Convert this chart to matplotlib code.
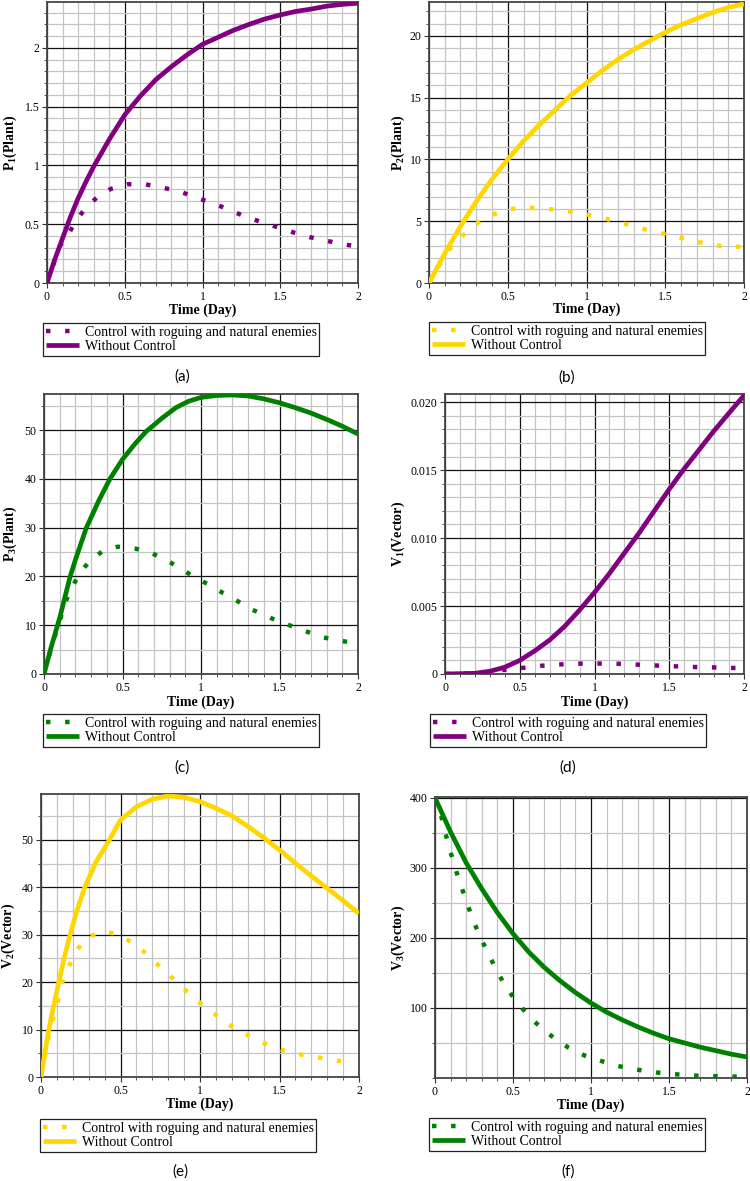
import matplotlib
matplotlib.use('Agg')
import matplotlib.pyplot as plt
from matplotlib.ticker import MultipleLocator, FixedLocator, FixedFormatter

plt.rcParams['font.family'] = 'Liberation Serif'
plt.rcParams['mathtext.default'] = 'regular'

PURPLE = '#800080'
GOLD = '#FFD700'
GREEN = '#008000'

CTRL_LABEL = 'Control with roguing and natural enemies'
FREE_LABEL = 'Without Control'

# (a) P1
p1_t_free = [0, 0.05, 0.1, 0.15, 0.2, 0.25, 0.3, 0.4, 0.5, 0.6, 0.7, 0.8, 0.9, 1.0,
             1.1, 1.2, 1.3, 1.4, 1.5, 1.6, 1.7, 1.8, 1.9, 2.0]
p1_free = [0, 0.2, 0.38, 0.56, 0.72, 0.86, 0.99, 1.22, 1.43, 1.59, 1.73, 1.84, 1.94, 2.03,
           2.09, 2.15, 2.2, 2.245, 2.28, 2.31, 2.33, 2.355, 2.37, 2.38]
p1_t_ctrl = [0, 0.08, 0.14, 0.19, 0.245, 0.33, 0.41, 0.52, 0.63, 0.745, 0.855, 0.945,
             1.045, 1.16, 1.265, 1.375, 1.48, 1.585, 1.69, 1.795, 1.9, 2.0]
p1_ctrl = [0, 0.31, 0.42, 0.54, 0.63, 0.74, 0.8, 0.84, 0.84, 0.81, 0.78, 0.73,
           0.69, 0.63, 0.57, 0.52, 0.475, 0.43, 0.39, 0.36, 0.33, 0.31]

# (b) P2
p2_t_free = [0, 0.05, 0.1, 0.15, 0.2, 0.3, 0.4, 0.5, 0.6, 0.7, 0.8, 0.9, 1.0,
             1.1, 1.2, 1.3, 1.4, 1.5, 1.6, 1.7, 1.8, 1.9, 2.0]
p2_free = [0, 1.2, 2.4, 3.5, 4.6, 6.6, 8.4, 10.0, 11.5, 12.8, 14.0, 15.2, 16.2,
           17.2, 18.1, 18.9, 19.6, 20.3, 20.9, 21.4, 21.9, 22.3, 22.6]
p2_t_ctrl = [0, 0.06, 0.116, 0.18, 0.26, 0.33, 0.42, 0.52, 0.63, 0.745, 0.857, 0.98,
             1.08, 1.18, 1.3, 1.41, 1.52, 1.63, 1.74, 1.85, 1.97, 2.0]
p2_ctrl = [0, 1.3, 2.5, 3.5, 4.3, 5.1, 5.6, 6.0, 6.1, 6.0, 5.86, 5.6,
           5.35, 5.0, 4.6, 4.2, 3.9, 3.56, 3.24, 3.0, 2.94, 2.9]

# (c) P3
p3_t_free = [0, 0.05, 0.1, 0.165, 0.2, 0.27, 0.35, 0.42, 0.5, 0.58, 0.65, 0.75, 0.84,
             0.92, 1.0, 1.1, 1.2, 1.3, 1.4, 1.5, 1.6, 1.7, 1.8, 1.9, 2.0]
p3_free = [0, 6, 11.5, 19.8, 23.4, 30, 35.6, 40, 44, 47.2, 49.7, 52.4, 54.6,
           55.9, 56.7, 57.1, 57.2, 57.0, 56.4, 55.6, 54.6, 53.5, 52.2, 50.8, 49.2]
p3_t_ctrl = [0, 0.05, 0.106, 0.136, 0.174, 0.227, 0.287, 0.37, 0.47, 0.584, 0.684, 0.773,
             0.854, 0.945, 1.05, 1.14, 1.23, 1.31, 1.405, 1.49, 1.585, 1.69, 1.78, 1.89, 1.95]
p3_ctrl = [0, 5.8, 11.5, 14.7, 17.6, 20.5, 23.1, 25.1, 26.1, 25.7, 24.8, 23.4,
           22.0, 20.1, 18.3, 16.6, 15.0, 13.4, 12.1, 10.8, 9.75, 8.5, 7.5, 6.8, 6.5]

# (d) V1
v1_t_free = [0, 0.2, 0.3, 0.4, 0.5, 0.6, 0.7, 0.8, 0.9, 1.0, 1.1, 1.2, 1.3, 1.4,
             1.5, 1.6, 1.7, 1.8, 1.9, 2.0]
v1_free = [0, 0.00005, 0.0002, 0.0005, 0.001, 0.0017, 0.0025, 0.0035, 0.0047, 0.006,
           0.0074, 0.0089, 0.0104, 0.012, 0.0136, 0.0151, 0.0165, 0.0179, 0.0192, 0.0205]
v1_t_ctrl = [0, 0.2, 0.3, 0.39, 0.52, 0.64, 0.76, 0.88, 1.01, 1.14, 1.27, 1.4, 1.53,
             1.65, 1.78, 1.91, 2.0]
v1_ctrl = [0, 0.00004, 0.00015, 0.0003, 0.00045, 0.0006, 0.0007, 0.00076, 0.00077,
           0.00076, 0.0007, 0.00063, 0.00057, 0.00052, 0.00049, 0.00045, 0.00043]

# (e) V2
v2_t_free = [0, 0.025, 0.049, 0.08, 0.112, 0.145, 0.183, 0.225, 0.275, 0.345, 0.43, 0.5,
             0.6, 0.7, 0.8, 0.9, 1.0, 1.1, 1.2, 1.3, 1.4, 1.5, 1.6, 1.7, 1.8, 1.9, 2.0]
v2_free = [0, 5.2, 10, 15.1, 20, 25, 30, 35, 40, 45.3, 50, 54.2,
           57, 58.6, 59.3, 59, 58.1, 56.7, 55.1, 52.9, 50.5, 47.9, 45.1, 42.4, 39.8, 37.2, 34.5]
v2_t_ctrl = [0, 0.05, 0.108, 0.134, 0.177, 0.225, 0.283, 0.379, 0.48, 0.566, 0.645,
             0.715, 0.807, 0.887, 0.955, 1.03, 1.113, 1.19, 1.273, 1.366, 1.46, 1.556,
             1.656, 1.763, 1.87, 1.98]
v2_ctrl = [0, 9, 16.3, 20, 23.4, 26.7, 29.3, 30.7, 30.2, 28.5, 26.5,
           24.3, 21.5, 19.0, 16.9, 14.8, 12.8, 10.9, 9.3, 7.7, 6.3, 5.3,
           4.6, 4.0, 3.4, 3.0]

# (f) V3
v3_t_free = [0, 0.1, 0.2, 0.3, 0.4, 0.5, 0.6, 0.7, 0.8, 0.9, 1.0, 1.1, 1.2, 1.3,
             1.4, 1.5, 1.6, 1.7, 1.8, 1.9, 2.0]
v3_free = [400, 351, 307, 270, 236, 206, 180, 158, 139, 122, 107, 94, 83, 73,
           64, 56, 50, 44, 39, 34, 30]
v3_t_ctrl = [0, 0.043, 0.071, 0.103, 0.136, 0.172, 0.211, 0.25, 0.293, 0.34, 0.392,
             0.444, 0.502, 0.565, 0.63, 0.7, 0.776, 0.858, 0.96, 1.056, 1.153, 1.267,
             1.386, 1.5, 1.62, 1.74, 1.866, 1.99]
v3_ctrl = [400, 371, 346, 320, 295, 271, 246, 222, 200, 178, 155,
           134, 115, 98, 82, 68, 55, 43, 32, 25, 18, 13,
           8.6, 6.2, 3.8, 2.9, 2.4, 1.4]

x_ticks = [0, 0.5, 1, 1.5, 2]
x_ticklabels = ['0', '0.5', '1', '1.5', '2']

W, H = 750, 1181
fig = plt.figure(figsize=(7.5, 11.81), dpi=100)


def px_box(l, t, r, b):
    return [l / W, 1 - b / H, (r - l) / W, (b - t) / H]


def panel(box, t_ctrl, y_ctrl, t_free, y_free, color, ylim, yticks, ylabels,
          yminor, ylab, ylab_x, xlab_y, leg_xy, tag, tag_xy):
    l, t, r, b = box
    ax = fig.add_axes(px_box(l, t, r, b))
    ax.plot(t_ctrl, y_ctrl, color=color, lw=3.2, dashes=(1.0, 3.3),
            dash_capstyle='butt', label=CTRL_LABEL, zorder=3)
    ax.plot(t_free, y_free, color=color, lw=3.4, solid_capstyle='butt',
            solid_joinstyle='round', label=FREE_LABEL, zorder=3)
    ax.set_xlim(0, 2)
    ax.set_ylim(*ylim)

    ax.xaxis.set_major_locator(FixedLocator(x_ticks))
    ax.xaxis.set_major_formatter(FixedFormatter(x_ticklabels))
    ax.xaxis.set_minor_locator(MultipleLocator(0.1))
    ax.yaxis.set_major_locator(FixedLocator(yticks))
    ax.yaxis.set_major_formatter(FixedFormatter(ylabels))
    ax.yaxis.set_minor_locator(MultipleLocator(yminor))

    ax.grid(which='minor', color='#c4c4c4', lw=0.9, zorder=0)
    ax.grid(which='major', color='#111111', lw=0.9, zorder=1)
    ax.set_axisbelow(True)
    for s in ax.spines.values():
        s.set_color('#444444')
        s.set_linewidth(1.3)

    ax.tick_params(which='major', direction='out', length=3.5, width=0.8,
                   color='#333333', labelsize=8.5, pad=2)
    ax.tick_params(which='minor', direction='out', length=2.2, width=0.7,
                   color='#555555')

    ax.set_xlabel('Time (Day)', fontsize=10, fontweight='bold')
    ax.xaxis.label.set_va('center')
    ax.xaxis.set_label_coords(0.5, (b - xlab_y) / (b - t))
    ax.set_ylabel(ylab, fontsize=10, fontweight='bold')
    ax.yaxis.label.set_va('center')
    ax.yaxis.set_label_coords((ylab_x - l) / (r - l), 0.5)

    leg = ax.legend(loc='upper left', bbox_to_anchor=(leg_xy[0] / W, 1 - leg_xy[1] / H),
                    bbox_transform=fig.transFigure, borderaxespad=0, fontsize=10,
                    frameon=True, fancybox=False, framealpha=1, edgecolor='#222222',
                    handlelength=2.4, handletextpad=0.4, labelspacing=0.1,
                    borderpad=0.2)
    leg.get_frame().set_linewidth(0.9)

    fig.text(tag_xy[0] / W, 1 - tag_xy[1] / H, tag, ha='center', va='center',
             fontsize=11, family='Lato')
    return ax


panel((47, 2, 358, 283), p1_t_ctrl, p1_ctrl, p1_t_free, p1_free, PURPLE,
      (0, 2.39), [0, 0.5, 1, 1.5, 2], ['0', '0.5', '1', '1.5', '2'], 0.1,
      'P$_1$(Plant)', 10, 310, (43, 323), '(a)', (182, 377))
panel((429, 2, 744, 283), p2_t_ctrl, p2_ctrl, p2_t_free, p2_free, GOLD,
      (0, 22.75), [0, 5, 10, 15, 20], ['0', '5', '10', '15', '20'], 1,
      'P$_2$(Plant)', 398, 309, (429, 322), '(b)', (567, 378))
panel((44, 394, 358, 674), p3_t_ctrl, p3_ctrl, p3_t_free, p3_free, GREEN,
      (0, 57.4), [0, 10, 20, 30, 40, 50], ['0', '10', '20', '30', '40', '50'], 5,
      'P$_3$(Plant)', 10, 702, (43, 714), '(c)', (182, 768))
panel((445, 394, 744, 674), v1_t_ctrl, v1_ctrl, v1_t_free, v1_free, PURPLE,
      (0, 0.0206), [0, 0.005, 0.010, 0.015, 0.020],
      ['0', '0.005', '0.010', '0.015', '0.020'], 0.001,
      'V$_1$(Vector)', 398, 702, (430, 714), '(d)', (568, 768))
panel((41, 794, 359, 1077), v2_t_ctrl, v2_ctrl, v2_t_free, v2_free, GOLD,
      (0, 59.7), [0, 10, 20, 30, 40, 50], ['0', '10', '20', '30', '40', '50'], 5,
      'V$_2$(Vector)', 8, 1104, (40, 1119), '(e)', (180, 1172))
panel((435, 797, 747, 1078), v3_t_ctrl, v3_ctrl, v3_t_free, v3_free, GREEN,
      (0, 401), [100, 200, 300, 400], ['100', '200', '300', '400'], 50,
      'V$_3$(Vector)', 398, 1105, (429, 1118), '(f)', (568, 1172))

fig.savefig('out.png', dpi=100, facecolor='white')
